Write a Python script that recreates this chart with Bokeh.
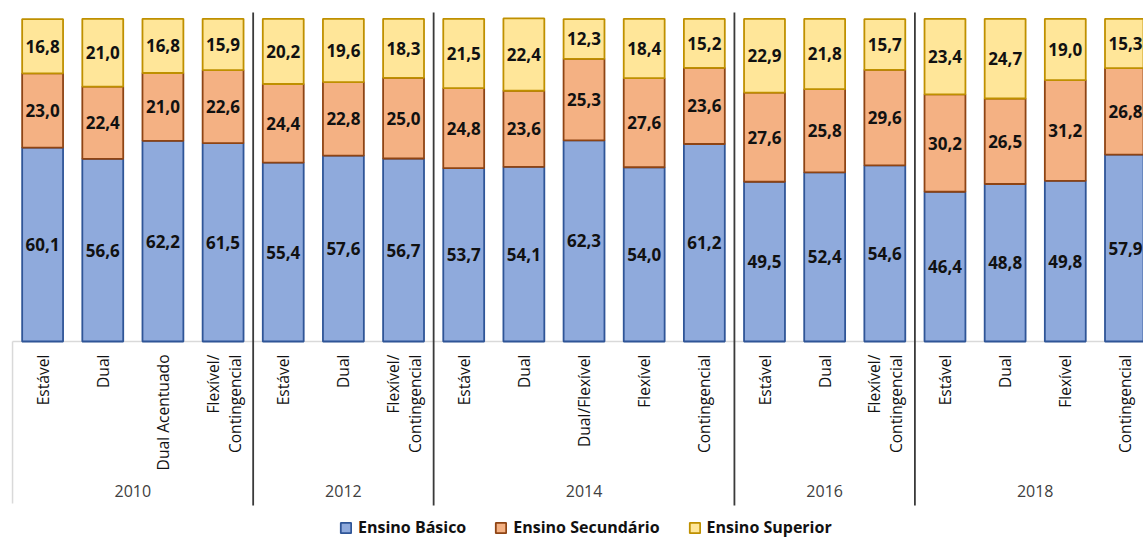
import math
from bokeh.plotting import figure
from bokeh.models import Range1d, ColumnDataSource, Legend, LegendItem
from bokeh.core.properties import value
from bokeh.embed import file_html
from bokeh.resources import INLINE

years = ["2010", "2012", "2014", "2016", "2018"]
categories = [
    ["Estável", "Dual", "Dual Acentuado", "Flexível/\nContingencial"],
    ["Estável", "Dual", "Flexível/\nContingencial"],
    ["Estável", "Dual", "Dual/Flexível", "Flexível", "Contingencial"],
    ["Estável", "Dual", "Flexível/\nContingencial"],
    ["Estável", "Dual", "Flexível", "Contingencial"],
]
basico = [60.1, 56.6, 62.2, 61.5, 55.4, 57.6, 56.7, 53.7, 54.1, 62.3, 54.0, 61.2,
          49.5, 52.4, 54.6, 46.4, 48.8, 49.8, 57.9]
secundario = [23.0, 22.4, 21.0, 22.6, 24.4, 22.8, 25.0, 24.8, 23.6, 25.3, 27.6, 23.6,
              27.6, 25.8, 29.6, 30.2, 26.5, 31.2, 26.8]
superior = [16.8, 21.0, 16.8, 15.9, 20.2, 19.6, 18.3, 21.5, 22.4, 12.3, 18.4, 15.2,
            22.9, 21.8, 15.7, 23.4, 24.7, 19.0, 15.3]
series_names = ["Ensino Básico", "Ensino Secundário", "Ensino Superior"]

FONT = "Open Sans"
fills = ["#8FAADC", "#F4B183", "#FFE699"]
lines = ["#2F5597", "#8E4414", "#BF9000"]

n = len(basico)
xs = [i + 0.5 for i in range(n)]
PX = 1143 / 19.0  # px per x unit
PY = 3.227        # px per y unit

p = figure(width=1143, height=538, output_backend="svg", toolbar_location=None,
           x_range=Range1d(-0.2, 18.8), y_range=Range1d(-61.05, 105.67),
           x_axis_type=None, y_axis_type=None,
           min_border=0, min_border_left=0, min_border_right=0,
           min_border_top=0, min_border_bottom=0)
p.grid.visible = False
p.outline_line_color = None
p.background_fill_color = "white"
p.border_fill_color = "white"

# axis lines (light gray)
p.segment(x0=[0], y0=[0], x1=[19], y1=[0], line_color="#D9D9D9", line_width=1.5)
p.segment(x0=[0], y0=[0], x1=[0], y1=[-(503 - 341) / PY], line_color="#D9D9D9", line_width=1.5)

# stacked bars
renderers = []
bottom = [0.0] * n
for vals, fc, lc in zip([basico, secundario, superior], fills, lines):
    top = [b + v for b, v in zip(bottom, vals)]
    src = ColumnDataSource(dict(x=xs, bottom=bottom, top=top,
                                mid=[(b + t) / 2 for b, t in zip(bottom, top)],
                                lab=[f"{v:.1f}".replace(".", ",") for v in vals]))
    r = p.vbar(x="x", bottom="bottom", top="top", width=0.68, source=src,
               fill_color=fc, line_color=lc, line_width=1.8)
    renderers.append(r)
    p.text(x="x", y="mid", text="lab", source=src, text_font=value(FONT),
           text_font_style="bold", text_font_size="17px", text_color="#111111",
           text_align="center", text_baseline="middle")
    bottom = top

# group separators
sizes = [len(c) for c in categories]
bounds = []
acc = 0
for s in sizes[:-1]:
    acc += s
    bounds.append(acc)
p.segment(x0=bounds, y0=[(341 - 12) / PY] * len(bounds), x1=bounds,
          y1=[-(505 - 341) / PY] * len(bounds), line_color="#3A3A3A", line_width=1.8)

# category labels (rotated)
flat = [c for grp in categories for c in grp]
lx, lt = [], []
for i, c in enumerate(flat):
    parts = c.split("\n")
    if len(parts) == 1:
        lx.append(xs[i]); lt.append(parts[0])
    else:
        lx.append(xs[i] - 10.5 / PX); lt.append(parts[0])
        lx.append(xs[i] + 11.5 / PX); lt.append(parts[1])
ly = [-(354 - 341) / PY] * len(lx)
p.text(x=lx, y=ly, text=lt, angle=math.pi / 2, text_font=value(FONT),
       text_font_size="15.6px", text_color="#111111",
       text_align="right", text_baseline="middle")

# year labels
yx = []
acc = 0
for s in sizes:
    yx.append(acc + s / 2)
    acc += s
p.text(x=yx, y=[-(491 - 341) / PY] * len(yx), text=years, text_font=value(FONT),
       text_font_size="16px", text_color="#404040",
       text_align="center", text_baseline="middle")

legend = Legend(items=[LegendItem(label=nm, renderers=[r]) for nm, r in zip(series_names, renderers)],
                orientation="horizontal", location=(339, 0),
                label_text_font=FONT, label_text_font_style="bold",
                label_text_font_size="16px", label_text_color="#111111",
                glyph_width=13, glyph_height=13, spacing=28, padding=0, margin=0,
                label_standoff=6, background_fill_alpha=0, border_line_alpha=0)
p.add_layout(legend)

open("out.html", "w").write(file_html(p, INLINE))
